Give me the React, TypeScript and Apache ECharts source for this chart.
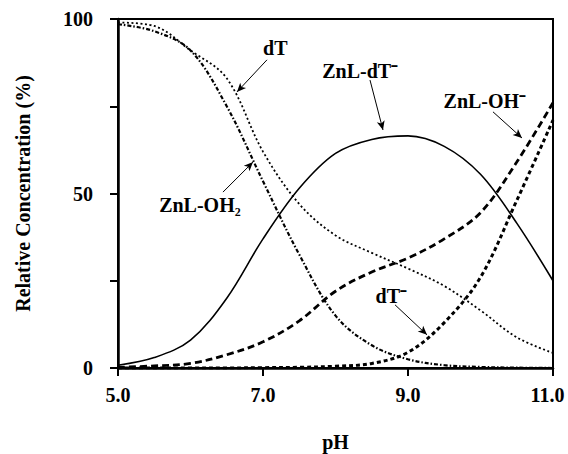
import React, { useEffect, useRef } from "react";
import * as echarts from "echarts";

const pH = [5.0, 5.5, 6.0, 6.5, 7.0, 7.5, 8.0, 8.5, 9.0, 9.5, 10.0, 10.5, 11.0];
const dT = [99, 98, 91, 83, 62, 47, 38, 33, 28.5, 23.5, 16.5, 8.8, 4.3];
const znlOH2 = [98.5, 96.5, 91, 75, 53.5, 32.5, 15, 6.5, 2.5, 0.8, 0.3, 0.1, 0];
const znlDT = [0.8, 3, 8, 20, 37, 51.5, 61.5, 65.5, 66.5, 63.5, 55.5, 41.5, 25];
const znlOH = [0.2, 0.6, 1.3, 3.8, 7.5, 13.5, 22, 27.5, 31.5, 37, 44.5, 59, 76];
const dTminus = [0, 0, 0, 0, 0.1, 0.2, 0.5, 1.3, 4.5, 13, 26, 48, 71];

const xTicks = [5, 7, 9, 11];
const yTickLabels = [0, 50, 100];

// annotation labels: [text, pH, value]
const labelNames = ["dT", "ZnL-dT⁻", "ZnL-OH⁻", "ZnL-OH₂", "dT⁻"];
const labelX = [7.17, 8.34, 10.06, 6.13, 8.77];
const labelY = [91.7, 85.1, 76.5, 46.6, 20.6];
// arrows: from -> to
const arrowFromX = [7.055, 8.476, 10.172, 6.448, 8.821];
const arrowFromY = [88.3, 82.5, 73.4, 50.4, 18.1];
const arrowToX = [6.641, 8.655, 10.572, 6.862, 9.262];
const arrowToY = [79.1, 68.2, 65.9, 59.0, 9.5];

const FONT = "'Liberation Serif', 'Times New Roman', serif";

function pairs(ys: number[]) {
  return pH.map((x, i) => [x, ys[i]]);
}

export default function App() {
  const ref = useRef<HTMLDivElement>(null);
  useEffect(() => {
    document.body.style.margin = "0";
    if (!ref.current) return;
    const chart = echarts.init(ref.current, undefined, { renderer: "svg" });
    const lineBase = (name: string, ys: number[], width: number, type: any) => ({
      name,
      type: "line",
      data: pairs(ys),
      showSymbol: false,
      symbol: "none",
      smooth: 0.35,
      lineStyle: { color: "#000", width, type, cap: "butt" },
      z: 3,
    });
    const tickText = { fontFamily: FONT, fontWeight: "bold", fontSize: 20, color: "#000" };
    chart.setOption({
      animation: false,
      backgroundColor: "#fff",
      grid: {
        left: 118,
        right: 15,
        top: 19,
        bottom: 86,
        outerBoundsMode: "none",
        containLabel: false,
        show: true,
        borderColor: "#000",
        borderWidth: 2,
      },
      xAxis: {
        type: "value",
        min: 5,
        max: 11,
        interval: 2,
        name: "pH",
        nameLocation: "middle",
        nameGap: 64,
        nameTextStyle: { ...tickText },
        axisLine: { lineStyle: { color: "#000", width: 2.5 } },
        axisTick: { show: true, length: 8, lineStyle: { color: "#000", width: 2 } },
        axisLabel: {
          margin: 17,
          ...tickText,
          formatter: (v: number) =>
            xTicks.includes(v) ? (v === 11 ? `{r|${v.toFixed(1)}}` : v.toFixed(1)) : "",
          rich: { r: { ...tickText, padding: [0, 11, 0, 0] } },
        },
        splitLine: { show: false },
      },
      yAxis: {
        type: "value",
        min: 0,
        max: 100,
        interval: 25,
        name: "Relative Concentration (%)",
        nameLocation: "middle",
        nameGap: 85,
        nameTextStyle: { ...tickText },
        axisLine: { lineStyle: { color: "#000", width: 2.5 } },
        axisTick: { show: true, length: 8, lineStyle: { color: "#000", width: 2 } },
        axisLabel: {
          margin: 25,
          ...tickText,
          formatter: (v: number) => (yTickLabels.includes(v) ? String(v) : ""),
        },
        splitLine: { show: false },
      },
      series: [
        {
          ...lineBase("ZnL-dT⁻", znlDT, 1.6, "solid"),
          markLine: {
            silent: true,
            symbol: ["none", "arrow"],
            symbolSize: [6, 9],
            lineStyle: { color: "#000", width: 1, type: "solid" },
            label: { show: false },
            data: arrowFromX.map((x, i) => [
              { coord: [x, arrowFromY[i]] },
              { coord: [arrowToX[i], arrowToY[i]] },
            ]),
          },
          markPoint: {
            silent: true,
            symbol: "circle",
            symbolSize: 0,
            label: {
              show: true,
              position: "inside",
              ...tickText,
              formatter: (p: any) => p.name,
            },
            data: labelNames.map((n, i) => ({ name: n, coord: [labelX[i], labelY[i]] })),
          },
        },
        lineBase("dT", dT, 1.8, [2, 2.5]),
        lineBase("ZnL-OH₂", znlOH2, 2.2, [4, 2, 1.5, 2]),
        lineBase("ZnL-OH⁻", znlOH, 2.8, [7, 4]),
        lineBase("dT⁻", dTminus, 3, [4, 3]),
      ],
    });
    return () => chart.dispose();
  }, []);
  return <div ref={ref} style={{ width: 568, height: 454 }} />;
}
